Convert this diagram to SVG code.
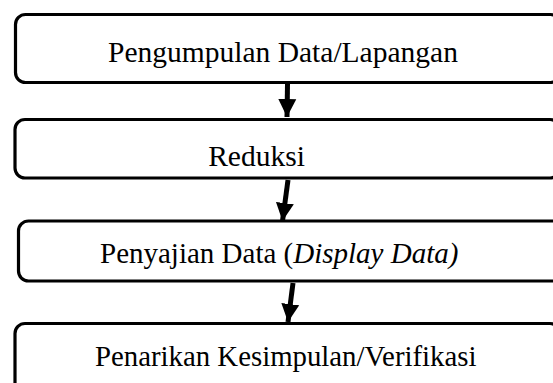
<svg xmlns="http://www.w3.org/2000/svg" width="553" height="383" viewBox="0 0 553 383">
<style>
.box{fill:#fff;stroke:#000;stroke-width:3.2}
.lbl{font-family:"Liberation Serif","Times New Roman",serif;font-size:29.5px;fill:#000}
.conn{stroke:#000;stroke-width:5;fill:none}
</style>
<defs>
<marker id="ah" markerUnits="userSpaceOnUse" markerWidth="20" markerHeight="20" viewBox="0 0 20 20" refX="18" refY="10" orient="auto">
<path d="M0,1 L18,10 L0,19 Z" fill="#000"/>
</marker>
</defs>
<g id="n1"><rect class="box" x="15.5" y="14.5" width="545" height="68" rx="10"/><text class="lbl" x="283" y="62" text-anchor="middle">Pengumpulan Data/Lapangan</text></g>
<g id="n2"><rect class="box" x="15" y="119.5" width="545" height="58.5" rx="10"/><text class="lbl" x="256.5" y="166" text-anchor="middle">Reduksi</text></g>
<g id="n3"><rect class="box" x="18.5" y="221" width="550" height="60" rx="10"/><text class="lbl" x="100" y="263" style="font-size:29px"><tspan>Penyajian Data (</tspan><tspan font-style="italic">Display Data)</tspan></text></g>
<g id="n4"><rect class="box" x="15" y="323.5" width="545" height="75" rx="10"/><text class="lbl" x="95" y="366" style="font-size:28.8px">Penarikan Kesimpulan/Verifikasi</text></g>
<g id="connectors">
<path class="conn" d="M287.5,84 L287,117" marker-end="url(#ah)"/>
<path class="conn" d="M288,180 L282.5,221" marker-end="url(#ah)"/>
<path class="conn" d="M293,283 L288,322" marker-end="url(#ah)"/>
</g>
</svg>
